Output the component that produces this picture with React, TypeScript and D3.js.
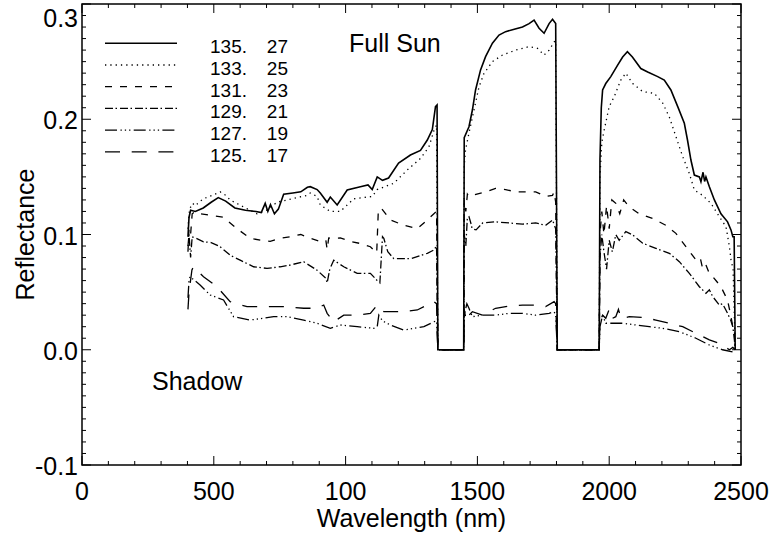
import React from "react";
import * as d3 from "d3";

type Pt = [number, number];

// wavelength (nm), reflectance
const s135: Pt[] = [[402,0.098],[406,0.115],[412,0.121],[430,0.12],[460,0.123],[490,0.128],[517,0.132],[545,0.129],[580,0.123],[620,0.121],[660,0.120],[680,0.119],[695,0.127],[705,0.12],[715,0.126],[730,0.118],[745,0.122],[765,0.135],[800,0.136],[830,0.137],[855,0.141],[866,0.1415],[892,0.139],[904,0.136],[930,0.128],[942,0.1325],[968,0.1256],[1006,0.1386],[1056,0.1415],[1085,0.143],[1101,0.139],[1120,0.150],[1140,0.147],[1163,0.149],[1201,0.162],[1246,0.169],[1284,0.173],[1310,0.182],[1329,0.191],[1341,0.211],[1347,0.2124],[1350,0],[1448,0],[1450,0.184],[1468,0.1935],[1481,0.208],[1493,0.2254],[1512,0.2428],[1531,0.2543],[1557,0.266],[1582,0.273],[1607,0.276],[1633,0.2777],[1671,0.280],[1696,0.283],[1715,0.286],[1734,0.279],[1753,0.2746],[1772,0.283],[1785,0.2867],[1797,0.283],[1803,0],[1962,0],[1965,0.165],[1970,0.21],[1975,0.2254],[1987,0.231],[2006,0.237],[2032,0.247],[2051,0.254],[2069,0.2586],[2088,0.254],[2120,0.244],[2146,0.241],[2184,0.237],[2209,0.234],[2234,0.2254],[2260,0.211],[2285,0.1965],[2297,0.182],[2310,0.1646],[2323,0.1516],[2342,0.150],[2348,0.1458],[2356,0.154],[2362,0.146],[2367,0.150],[2380,0.1415],[2399,0.130],[2424,0.118],[2449,0.111],[2462,0.104],[2469,0.098],[2474,0.098],[2478,0]];

const s133: Pt[] = [[402,0.105],[408,0.122],[420,0.127],[429,0.125],[460,0.131],[495,0.134],[524,0.137],[545,0.134],[562,0.13],[612,0.124],[664,0.118],[700,0.121],[740,0.128],[778,0.130],[854,0.134],[866,0.136],[892,0.133],[904,0.1256],[942,0.12],[980,0.12],[1031,0.131],[1101,0.133],[1120,0.139],[1183,0.1445],[1234,0.156],[1284,0.166],[1316,0.176],[1335,0.19],[1345,0.195],[1350,0],[1448,0],[1450,0.16],[1455,0.1735],[1468,0.188],[1487,0.208],[1506,0.228],[1525,0.2398],[1557,0.25],[1595,0.2557],[1645,0.26],[1696,0.263],[1728,0.2615],[1753,0.2557],[1772,0.26],[1791,0.267],[1797,0.268],[1803,0],[1962,0],[1965,0.15],[1972,0.18],[1981,0.1907],[2000,0.211],[2019,0.2196],[2044,0.234],[2063,0.24],[2089,0.231],[2127,0.224],[2171,0.2225],[2203,0.214],[2228,0.202],[2253,0.185],[2279,0.1675],[2304,0.153],[2323,0.1386],[2354,0.134],[2386,0.127],[2418,0.1154],[2443,0.1068],[2456,0.0894],[2462,0.078],[2470,0.07],[2478,0]];

const s131: Pt[] = [[402,0.085],[406,0.105],[412,0.1],[418,0.118],[430,0.12],[448,0.118],[480,0.117],[537,0.115],[562,0.11],[588,0.105],[638,0.0967],[680,0.095],[714,0.094],[752,0.0967],[790,0.098],[830,0.1],[866,0.0967],[904,0.094],[925,0.095],[930,0.087],[936,0.097],[942,0.0967],[980,0.097],[1018,0.094],[1060,0.092],[1094,0.0894],[1113,0.085],[1118,0.084],[1124,0.12],[1135,0.123],[1170,0.1126],[1221,0.108],[1272,0.105],[1310,0.1126],[1335,0.118],[1345,0.12],[1350,0],[1448,0],[1450,0.13],[1456,0.12],[1462,0.135],[1468,0.133],[1481,0.134],[1531,0.137],[1569,0.140],[1607,0.139],[1645,0.137],[1683,0.137],[1721,0.137],[1759,0.133],[1785,0.134],[1791,0.137],[1797,0.128],[1803,0],[1962,0],[1965,0.1],[1972,0.12],[1980,0.1],[1990,0.125],[2000,0.105],[2010,0.13],[2025,0.127],[2040,0.118],[2055,0.13],[2076,0.124],[2114,0.118],[2165,0.114],[2215,0.108],[2253,0.101],[2291,0.0894],[2329,0.078],[2345,0.08],[2355,0.07],[2367,0.0735],[2380,0.066],[2393,0.0634],[2424,0.0547],[2449,0.043],[2462,0.0287],[2469,0.02],[2475,0.017],[2478,0]];

const s129: Pt[] = [[402,0.09],[406,0.1],[412,0.08],[418,0.098],[430,0.097],[461,0.0937],[490,0.093],[524,0.0894],[562,0.082],[600,0.0777],[651,0.072],[702,0.0706],[752,0.072],[790,0.0735],[841,0.0764],[892,0.069],[925,0.062],[930,0.058],[940,0.07],[955,0.0777],[993,0.072],[1044,0.0663],[1094,0.0663],[1120,0.06],[1130,0.058],[1140,0.098],[1145,0.0966],[1160,0.085],[1183,0.079],[1246,0.079],[1310,0.0837],[1335,0.0866],[1345,0.09],[1350,0],[1448,0],[1450,0.1],[1456,0.09],[1462,0.115],[1468,0.1155],[1475,0.11],[1480,0.105],[1495,0.104],[1520,0.11],[1569,0.111],[1620,0.11],[1671,0.109],[1721,0.110],[1759,0.108],[1785,0.1126],[1797,0.105],[1803,0],[1962,0],[1965,0.08],[1972,0.1],[1980,0.085],[1990,0.07],[2000,0.095],[2012,0.085],[2025,0.1],[2038,0.095],[2063,0.1025],[2089,0.0996],[2127,0.0924],[2177,0.088],[2228,0.0837],[2266,0.0764],[2304,0.0663],[2342,0.0547],[2367,0.049],[2380,0.052],[2393,0.046],[2418,0.0388],[2430,0.04],[2449,0.0316],[2462,0.025],[2469,0.02],[2475,0.0085],[2478,0]];

const s127: Pt[] = [[402,0.045],[406,0.06],[410,0.0634],[448,0.0562],[486,0.0475],[537,0.0432],[575,0.0287],[638,0.0258],[689,0.0273],[727,0.0287],[778,0.0287],[841,0.0258],[892,0.023],[942,0.0186],[980,0.0215],[1044,0.02],[1107,0.0186],[1120,0.02],[1126,0.03],[1140,0.025],[1170,0.0215],[1221,0.0171],[1297,0.02],[1335,0.0243],[1345,0.025],[1350,0],[1448,0],[1450,0.03],[1460,0.04],[1468,0.036],[1481,0.0287],[1519,0.030],[1569,0.030],[1620,0.0316],[1671,0.0316],[1721,0.030],[1772,0.0316],[1791,0.033],[1797,0.03],[1803,0],[1962,0],[1965,0.02],[1975,0.03],[1987,0.023],[2051,0.023],[2101,0.0215],[2152,0.02],[2203,0.0186],[2266,0.0157],[2329,0.01],[2380,0.0041],[2430,0],[2469,-0.002],[2478,0]];

const s125: Pt[] = [[402,0.035],[406,0.05],[417,0.0692],[423,0.072],[461,0.0634],[512,0.0547],[562,0.0417],[626,0.0374],[714,0.0374],[765,0.0374],[841,0.036],[892,0.036],[917,0.0388],[930,0.0316],[955,0.0243],[993,0.03],[1044,0.03],[1094,0.0316],[1120,0.0388],[1145,0.033],[1221,0.033],[1272,0.0345],[1335,0.0417],[1345,0.04],[1350,0],[1448,0],[1450,0.035],[1458,0.025],[1468,0.03],[1481,0.033],[1519,0.030],[1569,0.036],[1620,0.038],[1671,0.0388],[1721,0.0388],[1759,0.0374],[1791,0.0417],[1797,0.04],[1803,0],[1962,0],[1965,0.025],[1975,0.03],[1987,0.0273],[2000,0.035],[2010,0.027],[2025,0.0287],[2035,0.035],[2045,0.027],[2076,0.0287],[2127,0.028],[2177,0.0258],[2228,0.023],[2279,0.02],[2329,0.0143],[2380,0.0085],[2418,0.0056],[2456,0],[2469,0.002],[2478,0]];

const seriesData: Pt[][] = [s135, s133, s131, s129, s127, s125];
const legendLeft = ["135.", "133.", "131.", "129.", "127.", "125."];
const legendRight = ["27", "25", "23", "21", "19", "17"];
const dashes = ["none", "1.3,4", "7,8", "8,2.5,1.5,3", "12,3.5,1.3,3,1.3,3,1.3,3.3", "15,11.7"];

const xTickValues = [0, 500, 1000, 1500, 2000, 2500];
const xTickLabels = ["0", "500", "100", "1500", "2000", "2500"];
const yTickValues = [-0.1, 0, 0.1, 0.2, 0.3];
const yTickLabels = ["-0.1", "0.0", "0.1", "0.2", "0.3"];

const W = 773, H = 541;
const L = 82, R = 741, T = 4, B = 465;
const FONT = "'Liberation Sans', Arial, Helvetica, sans-serif";
const NARROW = "'Liberation Sans Narrow', 'Arial Narrow', 'Liberation Sans', sans-serif";

export default function App() {
  const x = d3.scaleLinear().domain([0, 2500]).range([L, R]);
  const y = d3.scaleLinear().domain([-0.1, 0.3]).range([B, T]);
  const line = d3.line<Pt>().x(d => x(d[0])).y(d => y(d[1]));

  const xMinor = d3.range(0, 2501, 100);
  const yMinor = d3.range(-10, 31).map(i => i / 100);

  return (
    <svg width={W} height={H} style={{ position: "absolute", left: 0, top: 0, background: "#fff" }}>
      <rect x={0} y={0} width={W} height={H} fill="#fff" />
      {/* data */}
      <g fill="none" stroke="#000">
        {seriesData.map((s, i) => (
          <path key={i} d={line(s) || ""} strokeWidth={i === 0 ? 1.6 : 1.3}
            strokeDasharray={dashes[i] === "none" ? undefined : dashes[i]} />
        ))}
      </g>
      {/* frame */}
      <rect x={L} y={T} width={R - L} height={B - T} fill="none" stroke="#000" strokeWidth={1.5} />
      {/* ticks */}
      <g stroke="#000" strokeWidth={1}>
        {xMinor.map(v => {
          const major = v % 500 === 0;
          const len = major ? 9 : 4;
          return (
            <g key={"x" + v}>
              <line x1={x(v)} x2={x(v)} y1={B} y2={B - len} />
              <line x1={x(v)} x2={x(v)} y1={T} y2={T + len} />
            </g>
          );
        })}
        {yMinor.map((v, i) => {
          const major = (i % 10) === 0;
          const len = major ? 9 : 4;
          return (
            <g key={"y" + i}>
              <line x1={L} x2={L + len} y1={y(v)} y2={y(v)} />
              <line x1={R} x2={R - len} y1={y(v)} y2={y(v)} />
            </g>
          );
        })}
      </g>
      {/* tick labels */}
      <g fontFamily={FONT} fontSize={25} fill="#000">
        {xTickValues.map((v, i) => (
          <text key={"xl" + i} x={x(v)} y={500} textAnchor="middle">{xTickLabels[i]}</text>
        ))}
        {yTickValues.map((v, i) => (
          <text key={"yl" + i} x={78} y={Math.max(y(v) + 10, 27)} textAnchor="end">{yTickLabels[i]}</text>
        ))}
        <text x={(L + R) / 2} y={527} textAnchor="middle">Wavelength (nm)</text>
        <text transform={`translate(34,${(T + B) / 2}) rotate(-90)`} textAnchor="middle">Reflectance</text>
        <text x={349} y={52}>Full Sun</text>
        <text x={152} y={390}>Shadow</text>
      </g>
      {/* legend */}
      <g>
        {legendLeft.map((lab, i) => {
          const ly = 43.3 + i * 21.7;
          return (
            <g key={"lg" + i}>
              <line x1={105} x2={177} y1={ly} y2={ly} stroke="#000" strokeWidth={i === 0 ? 1.6 : 1.3}
                strokeDasharray={dashes[i] === "none" ? undefined : dashes[i]} />
              <text x={210} y={ly + 10} fontFamily={NARROW} fontSize={19}>{lab}</text>
              <text x={288} y={ly + 10} fontFamily={NARROW} fontSize={19} textAnchor="end">{legendRight[i]}</text>
            </g>
          );
        })}
      </g>
    </svg>
  );
}
